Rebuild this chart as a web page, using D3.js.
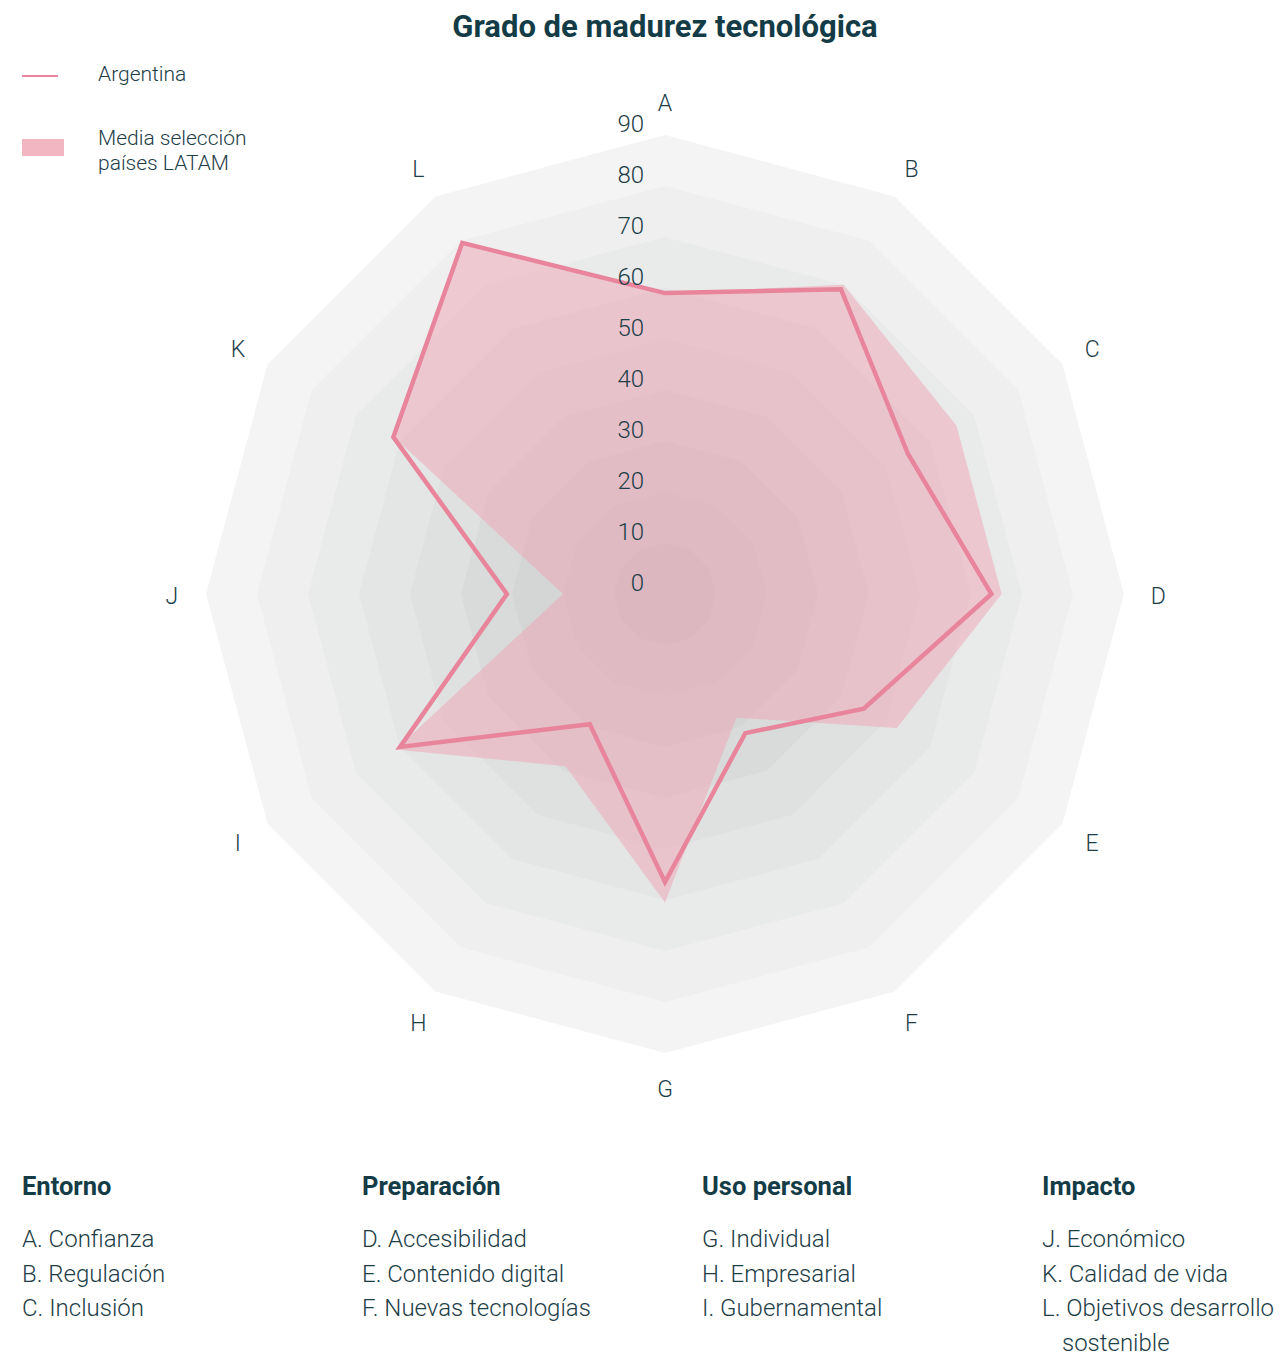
<!DOCTYPE html>
<html lang="es">
  <head>
    <meta charset="utf-8" />
    <title>Grado de madurez tecnológica</title>
    <script src="https://d3js.org/d3.v7.min.js"></script>
    <style>
      body { margin: 0; background: #fff; }
      svg text { font-family: Roboto, "Noto Sans", sans-serif; fill: #1d3d47; }
    </style>
  </head>
  <body>
    <div id="chart"></div>
    <script>
      // data
      const axes = ["A", "B", "C", "D", "E", "F", "G", "H", "I", "J", "K", "L"];
      const argentina = [59, 69, 55, 64, 45, 31.5, 56.5, 29.5, 60, 31, 61.5, 79.5];
      const latam = [59, 70, 66, 66, 52.5, 28, 60.5, 39, 61, 20, 61, 79];
      const ticks = [0, 10, 20, 30, 40, 50, 60, 70, 80, 90];
      const groupNames = ["Entorno", "Preparación", "Uso personal", "Impacto"];
      const groupItems = [
        ["A. Confianza", "B. Regulación", "C. Inclusión"],
        ["D. Accesibilidad", "E. Contenido digital", "F. Nuevas tecnologías"],
        ["G. Individual", "H. Empresarial", "I. Gubernamental"],
        ["J. Económico", "K. Calidad de vida", "L. Objetivos desarrollo|sostenible"],
      ];

      const W = 1281, H = 1357;
      const cx = 665, cy = 594;
      const svg = d3.select("#chart").append("svg").attr("width", W).attr("height", H);

      const r = d3.scaleLinear().domain([0, 90]).range([0, 459]);
      const angle = d3.scalePoint().domain(axes).range([0, 2 * Math.PI * 11 / 12]);

      const g = svg.append("g").attr("transform", `translate(${cx},${cy})`);

      // grey bands, outer to inner
      const bandColor = d3.interpolateRgb("#f4f4f4", "#c9cbcb");
      const bands = ticks.slice(1).reverse();
      const ring = d3.lineRadial()
        .angle((d) => angle(d))
        .curve(d3.curveLinearClosed);
      g.selectAll("path.band")
        .data(bands)
        .enter()
        .append("path")
        .attr("class", "band")
        .attr("d", (v) => ring.radius(() => r(v))(axes))
        .attr("fill", (v, i) => bandColor(i / (bands.length - 1)));

      // series
      const serie = d3.lineRadial()
        .angle((d, i) => angle(axes[i]))
        .radius((d) => r(d))
        .curve(d3.curveLinearClosed);

      g.append("path")
        .attr("d", serie(latam))
        .attr("fill", "#f0a3b5")
        .attr("fill-opacity", 0.5);

      g.append("path")
        .attr("d", serie(argentina))
        .attr("fill", "none")
        .attr("stroke", "#e8859c")
        .attr("stroke-width", 4.5)
        .attr("stroke-linejoin", "miter");

      // tick labels
      g.selectAll("text.tick")
        .data(ticks)
        .enter()
        .append("text")
        .attr("class", "tick")
        .attr("x", -21)
        .attr("y", (v) => -r(v) - 11)
        .attr("dy", "0.35em")
        .attr("text-anchor", "end")
        .attr("font-size", 24)
        .attr("font-weight", 300)
        .text((v) => v);

      // axis letters
      const labelR = r(96.7);
      g.selectAll("text.axis")
        .data(axes)
        .enter()
        .append("text")
        .attr("class", "axis")
        .attr("x", (d) => labelR * Math.sin(angle(d)))
        .attr("y", (d) => -labelR * Math.cos(angle(d)) + 2)
        .attr("dy", "0.35em")
        .attr("text-anchor", "middle")
        .attr("font-size", 23)
        .attr("font-weight", 300)
        .text((d) => d);

      // title
      svg.append("text")
        .attr("x", cx)
        .attr("y", 37)
        .attr("text-anchor", "middle")
        .attr("font-size", 31)
        .attr("font-weight", 700)
        .style("fill", "#143c47")
        .text("Grado de madurez tecnológica");

      // legend
      svg.append("line")
        .attr("x1", 22).attr("x2", 58)
        .attr("y1", 76).attr("y2", 76)
        .attr("stroke", "#e8859c")
        .attr("stroke-width", 2);
      svg.append("text")
        .attr("x", 98).attr("y", 81)
        .attr("font-size", 21).attr("font-weight", 300)
        .text("Argentina");
      svg.append("rect")
        .attr("x", 22).attr("y", 139)
        .attr("width", 42).attr("height", 17)
        .attr("fill", "#f2b6c2");
      svg.append("text")
        .attr("x", 98).attr("y", 145)
        .attr("font-size", 21).attr("font-weight", 300)
        .text("Media selección");
      svg.append("text")
        .attr("x", 98).attr("y", 170)
        .attr("font-size", 21).attr("font-weight", 300)
        .text("países LATAM");

      // category key at the bottom
      const colX = d3.scalePoint().domain(groupNames).range([22, 1042]);
      groupNames.forEach((name, gi) => {
        const x0 = colX(name);
        svg.append("text")
          .attr("x", x0).attr("y", 1195)
          .attr("font-size", 25.5).attr("font-weight", 700)
          .style("fill", "#143c47")
          .text(name);
        let row = 0;
        groupItems[gi].forEach((item) => {
          item.split("|").forEach((part, pi) => {
            svg.append("text")
              .attr("x", x0 + (pi > 0 ? 20 : 0))
              .attr("y", 1247 + row * 34.7)
              .attr("font-size", 24).attr("font-weight", 300)
              .text(part);
            row++;
          });
        });
      });
    </script>
  </body>
</html>
